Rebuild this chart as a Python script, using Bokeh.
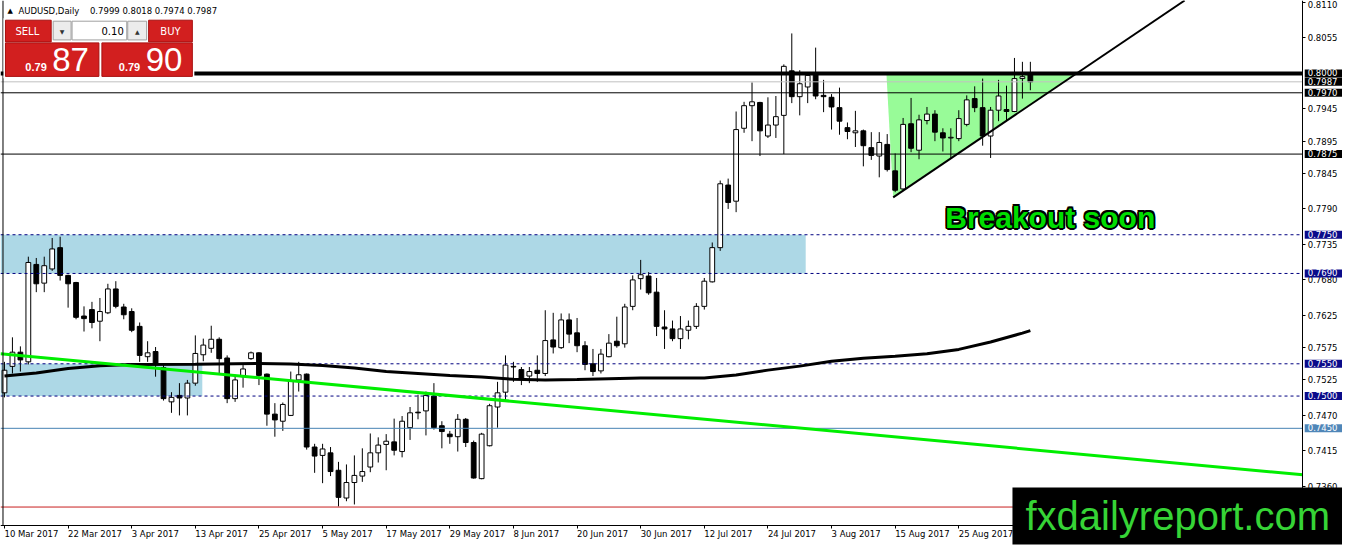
from bokeh.plotting import figure
from bokeh.models import Range1d, LinearAxis, FixedTicker, PrintfTickFormatter, Label
from bokeh.core.properties import value
from bokeh.embed import file_html
from bokeh.resources import INLINE

# ---------------- data ----------------
symbol = "AUDUSD,Daily"
last_ohlc = [0.7999, 0.8018, 0.7974, 0.7987]
bid_price = 0.7987
ask_price = 0.7990
lot_size = "0.10"

opens = [0.7505, 0.7546, 0.7568, 0.7553, 0.7704, 0.7675, 0.7697, 0.7730, 0.7687, 0.7676,
         0.7624, 0.7634, 0.7616, 0.7629, 0.7666, 0.7638, 0.7631, 0.7608, 0.7561, 0.7569,
         0.7544, 0.7491, 0.7501, 0.7497, 0.7520, 0.7564, 0.7574, 0.7588, 0.7559, 0.7496,
         0.7530, 0.7558, 0.7567, 0.7534, 0.7472, 0.7461, 0.7470, 0.7525, 0.7534, 0.7421,
         0.7408, 0.7412, 0.7385, 0.7342, 0.7366, 0.7376, 0.7390, 0.7412, 0.7425, 0.7429,
         0.7414, 0.7451, 0.7475, 0.7477, 0.7500, 0.7454, 0.7441, 0.7437, 0.7464, 0.7428,
         0.7372, 0.7423, 0.7483, 0.7506, 0.7546, 0.7541, 0.7531, 0.7540, 0.7535, 0.7587,
         0.7575, 0.7618, 0.7598, 0.7578, 0.7550, 0.7539, 0.7561, 0.7585, 0.7581, 0.7639,
         0.7682, 0.7686, 0.7661, 0.7607, 0.7604, 0.7589, 0.7602, 0.7608, 0.7639, 0.7677,
         0.7730, 0.7827, 0.7802, 0.7915, 0.7950, 0.7955, 0.7903, 0.7920, 0.7935, 0.8004,
         0.7964, 0.7979, 0.7999, 0.7966, 0.7963, 0.7947, 0.7916, 0.7908, 0.7911, 0.7885,
         0.7872, 0.7890, 0.7849, 0.7821, 0.7922, 0.7881, 0.7927, 0.7937, 0.7908, 0.7900,
         0.7899, 0.7921, 0.7961, 0.7947, 0.7903, 0.7943, 0.7944, 0.7941, 0.7992, 0.7999]
highs = [0.7553, 0.7591, 0.7577, 0.7716, 0.7714, 0.7716, 0.7745, 0.7747, 0.7688, 0.7677,
         0.7639, 0.7646, 0.7652, 0.7674, 0.7678, 0.7643, 0.7636, 0.7614, 0.7585, 0.7576,
         0.7548, 0.7506, 0.7520, 0.7525, 0.7594, 0.7589, 0.7609, 0.7591, 0.7563, 0.7533,
         0.7548, 0.7569, 0.7568, 0.7535, 0.7489, 0.7490, 0.7538, 0.7553, 0.7535, 0.7426,
         0.7426, 0.7421, 0.7398, 0.7394, 0.7408, 0.7419, 0.7442, 0.7436, 0.7441, 0.7465,
         0.7469, 0.7483, 0.7502, 0.7507, 0.7520, 0.7461, 0.7446, 0.7472, 0.7466, 0.7431,
         0.7443, 0.7488, 0.7522, 0.7563, 0.7553, 0.7545, 0.7545, 0.7563, 0.7633, 0.7629,
         0.7628, 0.7628, 0.7621, 0.7585, 0.7573, 0.7573, 0.7596, 0.7623, 0.7643, 0.7687,
         0.7711, 0.7692, 0.7683, 0.7633, 0.7617, 0.7624, 0.7617, 0.7644, 0.7683, 0.7738,
         0.7834, 0.7837, 0.7941, 0.7956, 0.7986, 0.7956, 0.7963, 0.7965, 0.8014, 0.8062,
         0.8005, 0.8001, 0.8040, 0.7990, 0.7968, 0.7978, 0.7924, 0.7942, 0.7913, 0.7909,
         0.7909, 0.7906, 0.7876, 0.7931, 0.7962, 0.7936, 0.7948, 0.7943, 0.7915, 0.7915,
         0.7943, 0.7966, 0.7980, 0.7992, 0.7948, 0.7990, 0.7981, 0.8024, 0.8018, 0.8018]
lows = [0.7498, 0.7535, 0.7538, 0.7549, 0.7661, 0.7661, 0.7694, 0.7679, 0.7637, 0.7619,
        0.7600, 0.7605, 0.7585, 0.7627, 0.7636, 0.7619, 0.7599, 0.7553, 0.7553, 0.7530,
        0.7493, 0.7474, 0.7470, 0.7470, 0.7516, 0.7554, 0.7567, 0.7535, 0.7489, 0.7491,
        0.7513, 0.7556, 0.7517, 0.7454, 0.7437, 0.7446, 0.7469, 0.7507, 0.7417, 0.7381,
        0.7365, 0.7376, 0.7329, 0.7337, 0.7332, 0.7367, 0.7382, 0.7397, 0.7385, 0.7408,
        0.7405, 0.7432, 0.7464, 0.7439, 0.7448, 0.7419, 0.7426, 0.7414, 0.7421, 0.7372,
        0.7371, 0.7422, 0.7451, 0.7494, 0.7522, 0.7517, 0.7520, 0.7522, 0.7531, 0.7566,
        0.7573, 0.7582, 0.7568, 0.7540, 0.7531, 0.7535, 0.7560, 0.7575, 0.7575, 0.7633,
        0.7665, 0.7657, 0.7593, 0.7573, 0.7585, 0.7573, 0.7588, 0.7604, 0.7634, 0.7676,
        0.7725, 0.7790, 0.7785, 0.7908, 0.7895, 0.7872, 0.7900, 0.7900, 0.7875, 0.7954,
        0.7935, 0.7954, 0.7960, 0.7940, 0.7913, 0.7905, 0.7898, 0.7886, 0.7856, 0.7866,
        0.7839, 0.7848, 0.7816, 0.7819, 0.7878, 0.7867, 0.7921, 0.7895, 0.7879, 0.7869,
        0.7895, 0.7918, 0.7940, 0.7888, 0.7869, 0.7926, 0.7926, 0.7940, 0.7961, 0.7974]
closes = [0.7540, 0.7568, 0.7556, 0.7707, 0.7674, 0.7702, 0.7728, 0.7687, 0.7674, 0.7622,
          0.7620, 0.7614, 0.7631, 0.7666, 0.7639, 0.7626, 0.7602, 0.7563, 0.7567, 0.7550,
          0.7496, 0.7498, 0.7497, 0.7520, 0.7566, 0.7579, 0.7588, 0.7558, 0.7496, 0.7525,
          0.7542, 0.7567, 0.7532, 0.7472, 0.7463, 0.7487, 0.7524, 0.7533, 0.7421, 0.7407,
          0.7418, 0.7383, 0.7343, 0.7366, 0.7377, 0.7383, 0.7412, 0.7424, 0.7430, 0.7416,
          0.7461, 0.7474, 0.7474, 0.7501, 0.7451, 0.7445, 0.7437, 0.7464, 0.7428, 0.7373,
          0.7441, 0.7485, 0.7505, 0.7548, 0.7545, 0.7526, 0.7538, 0.7535, 0.7586, 0.7576,
          0.7618, 0.7596, 0.7578, 0.7549, 0.7538, 0.7565, 0.7582, 0.7578, 0.7638, 0.7680,
          0.7688, 0.7660, 0.7608, 0.7604, 0.7589, 0.7604, 0.7608, 0.7639, 0.7678, 0.7730,
          0.7829, 0.7800, 0.7913, 0.7950, 0.7956, 0.7911, 0.7920, 0.7933, 0.8011, 0.7964,
          0.7984, 0.7997, 0.7965, 0.7964, 0.7948, 0.7926, 0.7910, 0.7911, 0.7888, 0.7873,
          0.7893, 0.7851, 0.7819, 0.7921, 0.7884, 0.7928, 0.7937, 0.7909, 0.7900, 0.7901,
          0.7930, 0.7959, 0.7947, 0.7903, 0.7943, 0.7965, 0.7941, 0.7992, 0.7995, 0.7987]

date_tick_idx = [0, 8, 16, 24, 32, 40, 48, 56, 64, 72, 80, 88, 96, 104, 112, 120]
date_tick_labels = ["10 Mar 2017", "22 Mar 2017", "3 Apr 2017", "13 Apr 2017", "25 Apr 2017",
                    "5 May 2017", "17 May 2017", "29 May 2017", "8 Jun 2017", "20 Jun 2017",
                    "30 Jun 2017", "12 Jul 2017", "24 Jul 2017", "3 Aug 2017", "15 Aug 2017",
                    "25 Aug 2017"]

price_ticks = [0.8110, 0.8055, 0.7945, 0.7895, 0.7845, 0.7790, 0.7735, 0.7680,
               0.7625, 0.7575, 0.7525, 0.7470, 0.7415, 0.7360]

# moving average read at sample bars
ma_idx = [0, 4, 8, 12, 16, 24, 32, 36, 40, 44, 48, 52, 56, 60, 64, 68, 72, 76, 80, 84,
          88, 92, 96, 100, 104, 108, 112, 116, 120, 124, 128, 129]
ma_val = [0.75311, 0.75357, 0.75428, 0.75468, 0.75490, 0.75494, 0.75505, 0.75497, 0.75474,
          0.75433, 0.75380, 0.75349, 0.75318, 0.75296, 0.75260, 0.75250, 0.75257, 0.75270,
          0.75280, 0.75280, 0.75280, 0.75326, 0.75402, 0.75464, 0.75540, 0.75586, 0.75616,
          0.75654, 0.75723, 0.75838, 0.75975, 0.76013]

# horizontal levels
resistance_level = 0.8000
bid_line_level = 0.7987
black_levels = [0.7970, 0.7875]
dashed_levels = [0.7750, 0.7690, 0.7550, 0.7500]
steel_level = 0.7450
red_level = 0.7328

# zones: right bar index, top, bottom
zone_right = [100.75, 24.875]
zone_top = [0.7750, 0.7550]
zone_bottom = [0.7690, 0.7500]

# triangle + trend lines (anchor points: bar index, price)
tri_x = [110.9, 111.75, 134.8]
tri_y = [0.8000, 0.7808, 0.8000]
up_trend_x = [111.75, 148.4]
up_trend_y = [0.7808, 0.8113]
down_trend_x = [-0.5, 163.25]
down_trend_y = [0.75655, 0.73780]

# highlighted price tags on the price scale
hl_levels = [0.8000, 0.7987, 0.7970, 0.7875, 0.7750, 0.7690, 0.7550, 0.7500, 0.7450]
hl_colors = ["black", "black", "black", "black", "#0b0b8a", "#0b0b8a", "#0b0b8a", "#0b0b8a", "#4f86b8"]


# -------------- reference pixel helpers (for decorations) --------------
def X(rx):
    return (rx - 4) / 8.0


def Y(ry):
    return 0.8 - (ry - 74) / 6547.0


FONT = "DejaVu Sans"
REF_W, REF_H = 1350, 554   # reference canvas, squeezed into the figure below
W, H = 1342, 546
AX_X = 1310      # price-scale position (reference px)
AX_Y = 532.5     # time-scale position (reference px)

p = figure(width=W, height=H, output_backend="svg", toolbar_location=None,
           x_range=Range1d(X(0), X(REF_W)), y_range=Range1d(Y(REF_H), Y(0)),
           x_axis_location=None, y_axis_location=None,
           min_border_left=0, min_border_top=0, min_border_right=0, min_border_bottom=0)
p.background_fill_color = "white"
p.border_fill_color = "white"
p.outline_line_color = None
p.xgrid.visible = False
p.ygrid.visible = False

XL, XR = X(0), X(AX_X)

# zones
p.quad(left=[XL] * len(zone_right), right=zone_right, top=zone_top, bottom=zone_bottom,
       fill_color="#add8e6", line_color=None)
# triangle
p.patch(tri_x, tri_y, fill_color="#98fb98", line_color=None)

# candles
idx = list(range(len(opens)))
body_top = [max(o, c) for o, c in zip(opens, closes)]
body_bot = [min(o, c) for o, c in zip(opens, closes)]
body_col = ["white" if c >= o else "black" for o, c in zip(opens, closes)]
p.segment(x0=idx, y0=highs, x1=idx, y1=lows, line_color="black", line_width=1)
p.vbar(x=idx, width=0.6, top=body_top, bottom=body_bot, fill_color=body_col,
       line_color="black", line_width=1)

# levels
p.segment(x0=[XL], y0=[bid_line_level], x1=[XR], y1=[bid_line_level], line_color="#c0c0c0", line_width=1)
p.segment(x0=[XL] * 2, y0=black_levels, x1=[XR] * 2, y1=black_levels, line_color="black", line_width=1)
p.segment(x0=[XL] * 4, y0=dashed_levels, x1=[XR] * 4, y1=dashed_levels, line_color="#000080",
          line_width=1, line_dash="3 3")
p.segment(x0=[XL], y0=[steel_level], x1=[XR], y1=[steel_level], line_color="#4682b4", line_width=1)
p.segment(x0=[XL], y0=[red_level], x1=[XR], y1=[red_level], line_color="#c81e1e", line_width=1)
p.segment(x0=[XL], y0=[resistance_level], x1=[XR], y1=[resistance_level], line_color="black", line_width=4)

# moving average and trend lines
p.line(ma_idx, ma_val, line_color="black", line_width=3)
p.line(down_trend_x, down_trend_y, line_color="#00ee00", line_width=3)
p.line(up_trend_x, up_trend_y, line_color="black", line_width=2)

# left chart border
p.segment(x0=[X(2.5)], y0=[Y(AX_Y)], x1=[X(2.5)], y1=[Y(0)], line_color="black", line_width=1)

# annotation text with a black outline
offs = [(-1.5, -1.5), (0, -1.8), (1.5, -1.5), (-1.8, 0), (1.8, 0), (-1.5, 1.5), (0, 1.8), (1.5, 1.5)]
bx_, by_ = X(1056), Y(220)
p.text(x=[bx_] * len(offs), y=[by_] * len(offs), text=["Breakout soon"] * len(offs),
       x_offset=[o[0] for o in offs], y_offset=[o[1] for o in offs],
       text_font=value("Liberation Sans"), text_font_style="bold", text_font_size=value("30px"),
       text_color="black", text_align="center", text_baseline="middle")
p.text(x=[bx_], y=[by_], text=["Breakout soon"], text_font=value("Liberation Sans"),
       text_font_style="bold", text_font_size=value("30px"), text_color="#00dd00",
       text_align="center", text_baseline="middle")

# -------- one-click trading panel --------
p.quad(left=[X(3)], right=[X(195)], top=[Y(18)], bottom=[Y(79)], fill_color="white", line_color=None)
red = "#d21f1f"
p.quad(left=[X(5), X(5), X(149), X(102)], right=[X(51), X(99), X(193), X(193)],
       top=[Y(20), Y(43), Y(20), Y(43)], bottom=[Y(42), Y(77), Y(42), Y(77)],
       fill_color=red, line_color="#a81010", line_width=1)
p.quad(left=[X(53), X(72), X(128)], right=[X(71), X(127), X(147)],
       top=[Y(21)] * 3, bottom=[Y(40)] * 3,
       fill_color=["#ececec", "white", "#ececec"], line_color="#a0a0a0", line_width=1)
p.text(x=[X(27), X(171)], y=[Y(31), Y(31)], text=["SELL", "BUY"], text_font=value(FONT),
       text_font_size=value("10px"), text_color="white", text_align="center", text_baseline="middle")
p.text(x=[X(62), X(137.5)], y=[Y(31), Y(31)], text=["▼", "▲"], text_font=value(FONT),
       text_font_size=value("6px"), text_color="#333333", text_align="center", text_baseline="middle")
p.text(x=[X(124)], y=[Y(31)], text=[lot_size], text_font=value(FONT),
       text_font_size=value("10px"), text_color="black", text_align="right", text_baseline="middle")
bid_s = "%.4f" % bid_price
ask_s = "%.4f" % ask_price
p.text(x=[X(25), X(119)], y=[Y(67.5), Y(67.5)], text=[bid_s[:4], ask_s[:4]],
       text_font=value("Liberation Sans"), text_font_style="bold", text_font_size=value("11px"),
       text_color="white", text_align="left", text_baseline="middle")
p.text(x=[X(52), X(146)], y=[Y(59.5), Y(59.5)], text=[bid_s[4:], ask_s[4:]],
       text_font=value("Liberation Sans"), text_font_size=value("33px"), text_color="white",
       text_align="left", text_baseline="middle")

# header
p.text(x=[X(7)], y=[Y(11)], text=["▲"], text_font=value(FONT), text_font_size=value("7px"),
       text_color="black", text_align="left", text_baseline="middle")
p.text(x=[X(18), X(90)], y=[Y(11), Y(11)],
       text=[symbol, " ".join("%.4f" % v for v in last_ohlc)], text_font=value(FONT),
       text_font_size=value("8.5px"), text_color="black", text_align="left", text_baseline="middle")

# -------- axes (pinned at the MT4 scale positions) --------
ry = LinearAxis(ticker=FixedTicker(ticks=price_ticks), formatter=PrintfTickFormatter(format="%.4f"),
                fixed_location=X(AX_X), bounds=(Y(AX_Y), Y(0)))
ry.major_label_text_font = FONT
ry.major_label_text_font_size = "8.5px"
ry.major_label_text_color = "black"
ry.major_tick_in = 0
ry.major_tick_out = 3
ry.major_label_standoff = 2
ry.axis_line_color = "black"
ry.major_tick_line_color = "black"
ry.minor_tick_line_color = None
p.add_layout(ry, "right")

bx = LinearAxis(ticker=FixedTicker(ticks=date_tick_idx),
                major_label_overrides={i: s for i, s in zip(date_tick_idx, date_tick_labels)},
                fixed_location=Y(AX_Y), bounds=(X(0), X(AX_X)))
bx.major_label_text_font = FONT
bx.major_label_text_font_size = "8.5px"
bx.major_label_text_color = "black"
bx.major_label_orientation = -0.0001
bx.major_tick_in = 0
bx.major_tick_out = 3
bx.major_label_standoff = 6
bx.axis_line_color = "black"
bx.minor_tick_line_color = None
p.add_layout(bx, "below")

# highlighted price tags
for lv, col in zip(hl_levels, hl_colors):
    p.add_layout(Label(x=X(1312), y=lv, text="%.4f" % lv, text_font=FONT, text_font_size="8.5px",
                       text_color="white", text_align="left", text_baseline="middle",
                       background_fill_color=col,
                       padding=dict(left=3, right=6, top=0, bottom=1)))

# watermark
p.add_layout(Label(x=X(1018), y=Y(523), text="fxdailyreport.com", text_font="Liberation Sans",
                   text_font_size="40px", text_color="#36d436", text_align="left",
                   text_baseline="middle", background_fill_color="black",
                   padding=dict(left=13, right=12, top=7, bottom=6)))

open("out.html", "w").write(file_html(p, INLINE))
